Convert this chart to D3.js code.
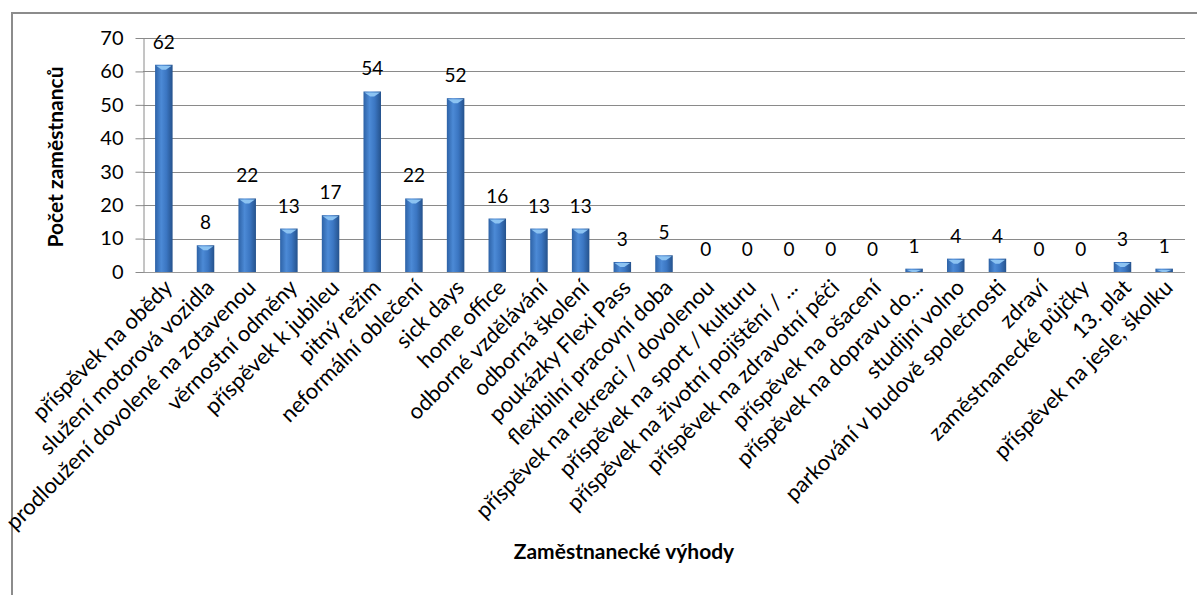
<!DOCTYPE html>
<html>
<head>
<meta charset="utf-8">
<script src="https://cdn.jsdelivr.net/npm/d3@7"></script>
<style>
  body { margin: 0; background: #fff; }
  svg { display: block; }
  text { font-family: Lato, "Open Sans", sans-serif; fill: #000; }
</style>
</head>
<body>
<svg width="1197" height="595"></svg>
<script>
// categories and values
const categories = [
  "příspěvek na obědy", "služení motorová vozidla", "prodloužení dovolené na zotavenou",
  "věrnostní odměny", "příspěvek k jubileu", "pitný režim", "neformální oblečení",
  "sick days", "home office", "odborné vzdělávání", "odborná školení",
  "poukázky Flexi Pass", "flexibilní pracovní doba", "příspěvek na rekreaci / dovolenou",
  "příspěvek na sport / kulturu", "příspěvek na životní pojištění / ...",
  "příspěvek na zdravotní péči", "příspěvek na ošacení", "příspěvek na dopravu do...",
  "studijní volno", "parkování v budově společnosti", "zdraví",
  "zaměstnanecké půjčky", "13. plat", "příspěvek na jesle, školku"
];
const values = [62, 8, 22, 13, 17, 54, 22, 52, 16, 13, 13, 3, 5, 0, 0, 0, 0, 0, 1, 4, 4, 0, 0, 3, 1];
const yTicks = [0, 10, 20, 30, 40, 50, 60, 70];
const yTitle = "Počet zaměstnanců";
const xTitle = "Zaměstnanecké výhody";

const data = categories.map((c, i) => ({ name: c, value: values[i] }));

const svg = d3.select("svg");

// chart frame (cut off on the right and bottom)
svg.append("path")
  .attr("d", "M12,600 L12,13 L1200,13")
  .attr("fill", "none")
  .attr("stroke", "#8c8c8c")
  .attr("stroke-width", 2);

const defs = svg.append("defs");
const grad = defs.append("linearGradient").attr("id", "barGrad")
  .attr("x1", "0%").attr("x2", "100%").attr("y1", "0%").attr("y2", "0%");
grad.append("stop").attr("offset", "0%").attr("stop-color", "#2d62a6");
grad.append("stop").attr("offset", "35%").attr("stop-color", "#4c8ad6");
grad.append("stop").attr("offset", "65%").attr("stop-color", "#3b76c2");
grad.append("stop").attr("offset", "100%").attr("stop-color", "#25528c");

const xScale = d3.scaleBand()
  .domain(categories)
  .range([143, 1185])
  .padding(0);

const yScale = d3.scaleLinear()
  .domain([0, 70])
  .range([272, 38]);

// gridlines
svg.append("g")
  .selectAll("line")
  .data(yTicks)
  .enter()
  .append("line")
  .attr("x1", 143)
  .attr("x2", 1185)
  .attr("y1", d => Math.round(yScale(d)) + 0.5)
  .attr("y2", d => Math.round(yScale(d)) + 0.5)
  .attr("stroke", d => d === 0 ? "#9a9a9a" : "#8a8a8a")
  .attr("stroke-width", 1);

// y axis
const yAxis = svg.append("g")
  .attr("transform", "translate(143.5,0)")
  .call(d3.axisLeft(yScale).tickValues(yTicks).tickSize(8).tickPadding(12).tickSizeOuter(0));
yAxis.select(".domain").attr("stroke", "#8a8a8a");
yAxis.selectAll(".tick line").attr("stroke", "#8a8a8a");
yAxis.selectAll(".tick text")
  .attr("font-size", 20)
  .attr("font-family", "Lato, sans-serif")
  .attr("fill", "#000");

// bars
const barW = xScale.bandwidth() * 0.42;
const bars = svg.append("g")
  .selectAll("g")
  .data(data.filter(d => d.value > 0))
  .enter()
  .append("g");

bars.append("rect")
  .attr("x", d => xScale(d.name) + xScale.bandwidth() / 2 - barW / 2)
  .attr("y", d => yScale(d.value))
  .attr("width", barW)
  .attr("height", d => yScale(0) - yScale(d.value))
  .attr("fill", "url(#barGrad)");

// light bevel on the top of every bar
bars.append("path")
  .attr("d", d => {
    const cx = xScale(d.name) + xScale.bandwidth() / 2;
    const top = yScale(d.value);
    const h = Math.min(5, yScale(0) - top);
    return `M${cx - barW / 2 + 1},${top + 1} L${cx + barW / 2 - 1},${top + 1} L${cx + 2},${top + h} L${cx - 2},${top + h} Z`;
  })
  .attr("fill", "#8cc3f2");

// value labels
svg.append("g")
  .selectAll("text")
  .data(data)
  .enter()
  .append("text")
  .attr("x", d => xScale(d.name) + xScale.bandwidth() / 2)
  .attr("y", d => yScale(d.value) - 16)
  .attr("text-anchor", "middle")
  .attr("font-size", 19)
  .text(d => d.value);

// category labels, rotated
svg.append("g")
  .selectAll("text")
  .data(data)
  .enter()
  .append("text")
  .attr("text-anchor", "end")
  .attr("font-size", 22)
  .attr("transform", d => {
    const cx = xScale(d.name) + xScale.bandwidth() / 2 + 10;
    return `translate(${cx},${289}) rotate(-45)`;
  })
  .text(d => d.name);

// axis titles
svg.append("text")
  .attr("transform", "translate(63,157) rotate(-90)")
  .attr("text-anchor", "middle")
  .attr("font-size", 21)
  .attr("font-weight", "bold")
  .text(yTitle);

svg.append("text")
  .attr("x", 624)
  .attr("y", 559)
  .attr("text-anchor", "middle")
  .attr("font-size", 21)
  .attr("font-weight", "bold")
  .text(xTitle);
</script>
</body>
</html>
